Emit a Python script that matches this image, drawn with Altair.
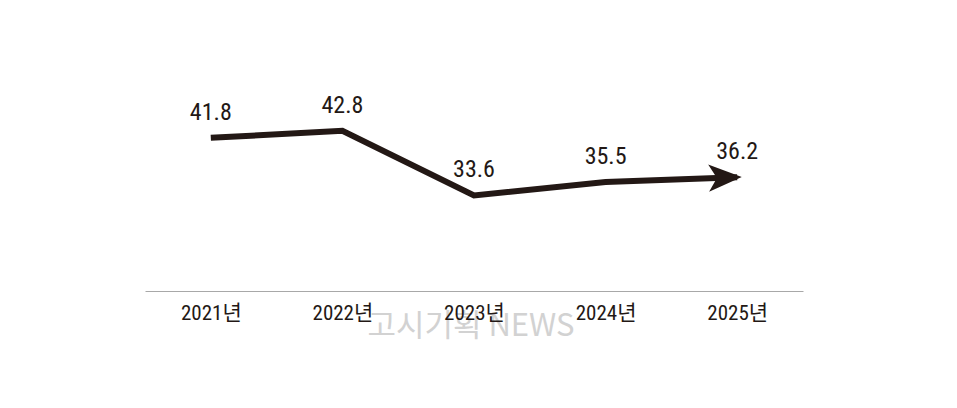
import altair as alt
import pandas as pd

years = ["2021년", "2022년", "2023년", "2024년", "2025년"]
values = [41.8, 42.8, 33.6, 35.5, 36.2]
labels = ["41.8", "42.8", "33.6", "35.5", "36.2"]
watermark = "고시기획 NEWS"

df = pd.DataFrame({"year": years, "value": values, "label": labels})

INK = "#231815"
NUM_FONT = "Liberation Sans Narrow, Roboto Condensed, Arial Narrow, Noto Sans CJK KR, sans-serif"

x = alt.X("year:N", sort=years,
          scale=alt.Scale(type="point", padding=0.5),
          axis=alt.Axis(title=None, domain=True, domainColor="#a8a8a8", domainWidth=1,
                        ticks=False, grid=False, labelAngle=0, labelPadding=11,
                        labelFont=NUM_FONT, labelFontSize=21, labelColor=INK, zindex=2))
y = alt.Y("value:Q", scale=alt.Scale(domain=[20, 60], nice=False, zero=False), axis=None)

base = alt.Chart(df)

wm = alt.Chart(pd.DataFrame({"t": [watermark]})).mark_text(
    font="Noto Sans CJK KR, sans-serif", fontSize=31, color="#d2d2d2",
    align="center", baseline="middle"
).encode(x=alt.value(326), y=alt.value(317), text="t:N")

line = base.mark_line(color=INK, strokeWidth=6, strokeCap="butt", strokeJoin="miter").encode(x=x, y=y)

arrow_shape = "M1,0 L-1,-0.82 L-0.5,0 L-1,0.82 Z"
arrow = base.transform_filter(alt.datum.year == years[-1]).mark_point(
    shape=arrow_shape, size=1100, filled=True, color=INK, opacity=1,
    strokeWidth=0, xOffset=-12, yOffset=0.4, angle=358
).encode(x=x, y=y)

text = base.mark_text(font=NUM_FONT, fontSize=24, color=INK, align="center",
                      baseline="bottom", dy=-13).encode(x=x, y=y, text="label:N")

chart = alt.layer(wm, line, arrow, text).properties(
    width=658, height=281,
    padding={"left": 137, "top": 2, "right": 140, "bottom": 100},
    autosize=alt.AutoSizeParams(type="none"),
    background="white",
).configure_view(stroke=None)

chart.save("out.html", embed_options={"renderer": "svg", "actions": False})
